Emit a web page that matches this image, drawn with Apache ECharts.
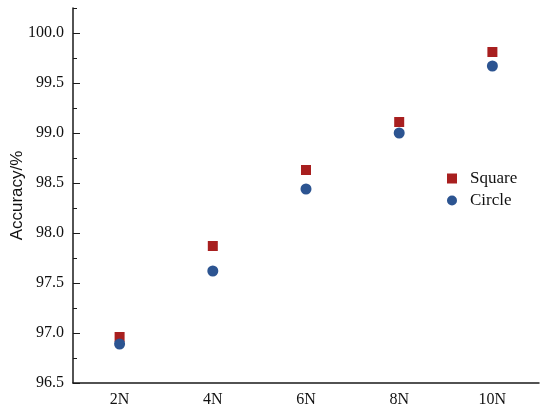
<!DOCTYPE html>
<html>
<head>
<meta charset="utf-8">
<script src="https://cdn.jsdelivr.net/npm/echarts@6/dist/echarts.min.js"></script>
<style>
  html, body { margin: 0; padding: 0; background: #fff; }
  #chart { width: 550px; height: 415px; }
</style>
</head>
<body>
<div id="chart"></div>
<script>
// 数据
const categories = ['2N', '4N', '6N', '8N', '10N']
const squareValues = [96.96, 97.87, 98.63, 99.11, 99.81]
const circleValues = [96.89, 97.62, 98.44, 99.00, 99.67]
const majorTicks = [96.5, 97.0, 97.5, 98.0, 98.5, 99.0, 99.5, 100.0]
const minorTicks = [96.75, 97.25, 97.75, 98.25, 98.75, 99.25, 99.75, 100.25]

const serif = '"Liberation Serif", "Times New Roman", serif'
const axisColor = '#1a1a1a'

const chart = echarts.init(document.getElementById('chart'))

const options = {
  animation: false,
  grid: { left: 73, right: 11, top: 8, bottom: 32, outerBoundsMode: 'none', containLabel: false },
  legend: {
    orient: 'vertical',
    left: 442,
    top: 165,
    itemWidth: 10,
    itemHeight: 10,
    itemGap: 5,
    textStyle: { fontFamily: serif, fontSize: 17, color: '#111', padding: [0, 0, 0, 8] },
    data: [
      { name: 'Square', icon: 'rect' },
      { name: 'Circle', icon: 'circle' }
    ]
  },
  xAxis: {
    type: 'category',
    data: categories,
    boundaryGap: true,
    axisLine: { lineStyle: { color: axisColor, width: 1.5 } },
    axisTick: { inside: true, alignWithLabel: true, length: 7, lineStyle: { color: axisColor } },
    axisLabel: { fontFamily: serif, fontSize: 16, color: '#111', margin: 9 },
    splitLine: { show: false }
  },
  yAxis: [
    {
      type: 'value',
      min: 96.5,
      max: 100.25,
      interval: 0.5,
      name: 'Accuracy/%',
      nameLocation: 'middle',
      nameGap: 47,
      nameMoveOverlap: false,
      nameTextStyle: { fontFamily: '"Liberation Sans", Arial, sans-serif', fontSize: 17, color: '#111' },
      axisLine: { show: true, lineStyle: { color: axisColor, width: 1.5 } },
      axisTick: { show: true, inside: true, length: 7, customValues: majorTicks, lineStyle: { color: axisColor } },
      axisLabel: {
        fontFamily: serif, fontSize: 16, color: '#111', margin: 9,
        customValues: majorTicks,
        formatter: (v) => v.toFixed(1)
      },
      splitLine: { show: false }
    },
    {
      // 次刻度
      type: 'value',
      position: 'left',
      min: 96.5,
      max: 100.25,
      interval: 0.25,
      axisLine: { show: false },
      axisTick: { show: true, inside: true, length: 4, customValues: minorTicks, lineStyle: { color: axisColor } },
      axisLabel: { show: false },
      splitLine: { show: false }
    }
  ],
  series: [
    {
      name: 'Square',
      type: 'scatter',
      symbol: 'rect',
      symbolSize: 10,
      itemStyle: { color: '#a81f1f', opacity: 1 },
      data: squareValues
    },
    {
      name: 'Circle',
      type: 'scatter',
      symbol: 'circle',
      symbolSize: 11,
      itemStyle: { color: '#2c5491', opacity: 1 },
      data: circleValues
    }
  ]
}

chart.setOption(options)
</script>
</body>
</html>
